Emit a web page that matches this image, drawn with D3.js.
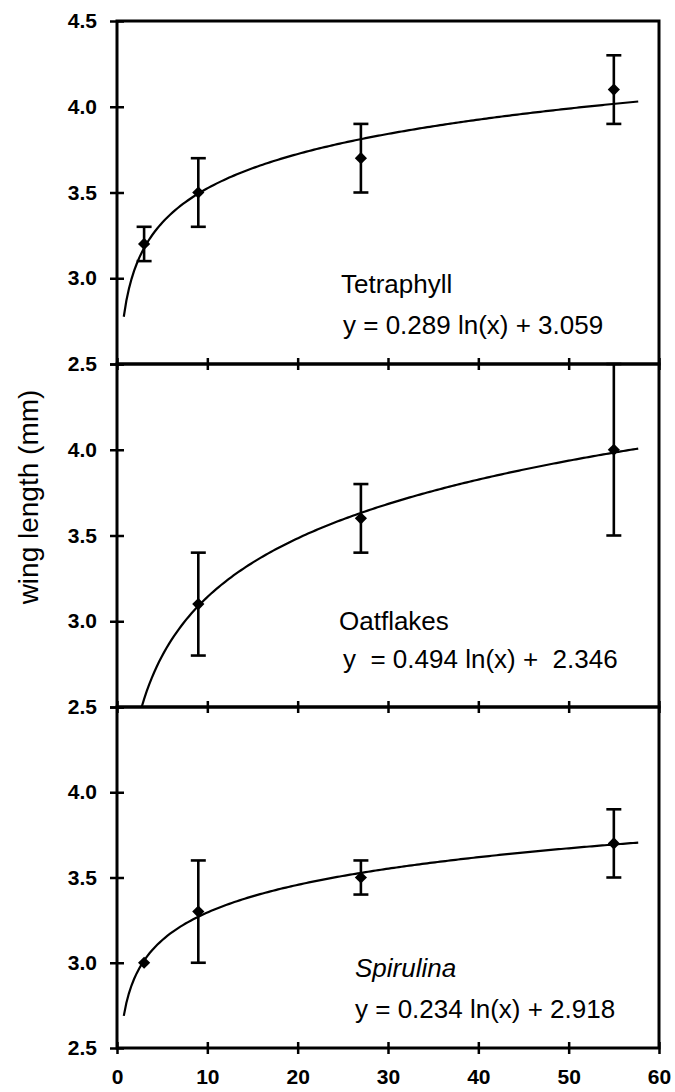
<!DOCTYPE html>
<html>
<head>
<meta charset="utf-8">
<script src="https://cdn.jsdelivr.net/npm/d3@7"></script>
<style>
  html, body { margin: 0; padding: 0; background: #fff; }
  svg { display: block; }
  text { font-family: "Liberation Sans", Arial, sans-serif; fill: #000; }
</style>
</head>
<body>
<svg id="chart" width="675" height="1092"></svg>
<script>
// x: dose; y: wing length (mm)
const xTicks = [0, 10, 20, 30, 40, 50, 60];
const yTicks = [2.5, 3.0, 3.5, 4.0, 4.5];

const tetraX = [3, 9, 27, 55];
const tetraMean = [3.2, 3.5, 3.7, 4.1];
const tetraErr = [0.1, 0.2, 0.2, 0.2];
const tetraFit = [0.289, 3.059];

const oatX = [9, 27, 55];
const oatMean = [3.1, 3.6, 4.0];
const oatErr = [0.3, 0.2, 0.5];
const oatFit = [0.494, 2.346];

const spirX = [3, 9, 27, 55];
const spirMean = [3.0, 3.3, 3.5, 3.7];
const spirErr = [0.0, 0.3, 0.1, 0.2];
const spirFit = [0.234, 2.918];

// trend lines are drawn over this dose span
const fitSpan = [0.75, 57.7];

const panels = [
  { name: "Tetraphyll", italic: false, eq: "y = 0.289 ln(x) + 3.059", xs: tetraX, mean: tetraMean, err: tetraErr, fit: tetraFit,
    top: 21, bottom: 364, nameAt: [341, 293], eqAt: [343, 334], showTop: true },
  { name: "Oatflakes", italic: false, eq: "y  = 0.494 ln(x) +  2.346", xs: oatX, mean: oatMean, err: oatErr, fit: oatFit,
    top: 364, bottom: 707, nameAt: [339, 630], eqAt: [343, 668], showTop: false },
  { name: "Spirulina", italic: true, eq: "y = 0.234 ln(x) + 2.918", xs: spirX, mean: spirMean, err: spirErr, fit: spirFit,
    top: 707, bottom: 1048, nameAt: [355, 977], eqAt: [355, 1018], showTop: false }
];

const svg = d3.select("#chart");
const left = 117, right = 659;
const x = d3.scaleLinear().domain([0, 60]).range([left, right]);
const tickFont = "'Liberation Sans', Arial, sans-serif";

panels.forEach((p, i) => {
  const y = d3.scaleLinear().domain([2.5, 4.5]).range([p.bottom, p.top]);
  const g = svg.append("g");
  const clipId = "clip" + i;
  svg.append("clipPath").attr("id", clipId)
    .append("rect").attr("x", left).attr("y", p.top).attr("width", right - left).attr("height", p.bottom - p.top);

  // frame
  g.append("rect")
    .attr("x", left).attr("y", p.top)
    .attr("width", right - left).attr("height", p.bottom - p.top)
    .attr("fill", "none").attr("stroke", "#000").attr("stroke-width", 3);

  // y axis: crossing ticks
  const labelled = p.showTop ? yTicks : yTicks.filter(v => v < 4.5);
  const ya = g.append("g").attr("transform", `translate(${left},0)`)
    .call(d3.axisLeft(y).tickValues(yTicks).tickSize(7).tickPadding(13)
      .tickFormat(v => labelled.includes(v) ? d3.format(".1f")(v) : ""));
  ya.attr("font-size", 21).attr("font-family", tickFont);
  ya.select(".domain").remove();
  ya.selectAll(".tick line").attr("x1", -7).attr("x2", 7).attr("stroke", "#000").attr("stroke-width", 2.5);
  ya.selectAll(".tick text").attr("font-size", 21).attr("font-weight", "bold");

  // x axis along the panel bottom: crossing ticks
  const xa = g.append("g").attr("transform", `translate(0,${p.bottom})`)
    .call(d3.axisBottom(x).tickValues(xTicks).tickSize(6).tickPadding(15)
      .tickFormat(v => i === panels.length - 1 ? d3.format("d")(v) : ""));
  xa.attr("font-size", 21).attr("font-family", tickFont);
  xa.select(".domain").remove();
  xa.selectAll(".tick line").attr("y1", -6).attr("y2", 6).attr("stroke", "#000").attr("stroke-width", 2.5);
  xa.selectAll(".tick text").attr("font-size", 21).attr("font-weight", "bold");

  // trend line; the equations were fitted against x/2
  const [a, b] = p.fit;
  const f = d => a * Math.log(d / 2) + b;
  const x0 = Math.max(fitSpan[0], 2 * Math.exp((2.5 - b) / a));
  const n = 200;
  const curve = d3.range(n + 1).map(k => {
    const d = x0 + (fitSpan[1] - x0) * k / n;
    return [d, f(d)];
  });
  g.append("path")
    .attr("clip-path", `url(#${clipId})`)
    .attr("d", d3.line().x(d => x(d[0])).y(d => y(d[1]))(curve))
    .attr("fill", "none").attr("stroke", "#000").attr("stroke-width", 2.2);

  // error bars
  const pts = p.xs.map((d, k) => ({ d, m: p.mean[k], e: p.err[k] }));
  const eb = g.append("g").attr("stroke", "#000").attr("stroke-width", 2.6);
  pts.filter(q => q.e > 0).forEach(q => {
    eb.append("line").attr("x1", x(q.d)).attr("x2", x(q.d)).attr("y1", y(q.m - q.e)).attr("y2", y(q.m + q.e));
    [q.m - q.e, q.m + q.e].forEach(v => {
      eb.append("line").attr("x1", x(q.d) - 7.5).attr("x2", x(q.d) + 7.5).attr("y1", y(v)).attr("y2", y(v));
    });
  });

  // markers
  g.selectAll(".pt").data(pts).join("path")
    .attr("class", "pt")
    .attr("transform", q => `translate(${x(q.d)},${y(q.m)})`)
    .attr("d", d3.symbol().type(d3.symbolDiamond2).size(95))
    .attr("fill", "#000");

  // labels
  g.append("text").attr("x", p.nameAt[0]).attr("y", p.nameAt[1])
    .attr("font-size", 26).attr("font-style", p.italic ? "italic" : "normal")
    .text(p.name);
  g.append("text").attr("x", p.eqAt[0]).attr("y", p.eqAt[1])
    .attr("font-size", 26).style("white-space", "pre")
    .text(p.eq);
});

// y axis title
svg.append("text")
  .attr("transform", "translate(38,497) rotate(-90)")
  .attr("text-anchor", "middle")
  .attr("font-size", 28)
  .text("wing length (mm)");
</script>
</body>
</html>
